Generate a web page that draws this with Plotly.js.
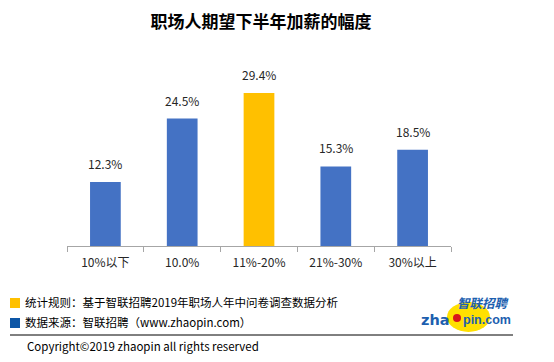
<!DOCTYPE html>
<html><head><meta charset="utf-8">
<script src="https://cdn.plot.ly/plotly-3.0.1.min.js"></script>
<style>body{margin:0;background:#fff}#c{width:554px;height:362px}</style>
</head><body><div id="c"></div>
<script>
const categories = ["10%以下", "10.0%", "11%-20%", "21%-30%", "30%以上"];
const values = [12.3, 24.5, 29.4, 15.3, 18.5];
const labels = ["12.3%", "24.5%", "29.4%", "15.3%", "18.5%"];
const barColors = ["#4472C4", "#4472C4", "#FFC000", "#4472C4", "#4472C4"];
const titleText = "职场人期望下半年加薪的幅度";
const note1 = "统计规则：基于智联招聘2019年职场人年中问卷调查数据分析";
const note2 = "数据来源：智联招聘（www.zhaopin.com）";
const copyright = "Copyright©2019 zhaopin all rights reserved";

const L = 67, R = 451, T = 60, B = 246, W = 554, H = 362;
const px = x => (x - L) / (R - L);
const py = y => (B - y) / (B - T);
const FONT = "Microsoft YaHei, Noto Sans CJK SC, sans-serif";

const annotations = categories.map((c, i) => ({
  x: c, y: values[i], xref: 'x', yref: 'y', text: labels[i], showarrow: false,
  yanchor: 'bottom', yshift: 8, font: {size: 12, color: '#262626', family: FONT}
}));
annotations.push(
  {x: px(23), y: py(302), xref: 'paper', yref: 'paper', xanchor: 'left', yanchor: 'middle',
   text: note1, showarrow: false, font: {size: 11.5, color: '#000', family: FONT}},
  {x: px(23), y: py(322), xref: 'paper', yref: 'paper', xanchor: 'left', yanchor: 'middle',
   text: note2, showarrow: false, font: {size: 11.5, color: '#000', family: FONT}},
  {x: px(25), y: py(346), xref: 'paper', yref: 'paper', xanchor: 'left', yanchor: 'middle',
   text: copyright, showarrow: false, font: {size: 11.5, color: '#000', family: FONT}},
  {x: px(512), y: py(302), xref: 'paper', yref: 'paper', xanchor: 'right', yanchor: 'middle',
   text: "<b><i>智联招聘</i></b>", showarrow: false, font: {size: 12.5, color: '#1D5FAF', family: FONT}},
  {x: px(452), y: py(320), xref: 'paper', yref: 'paper', xanchor: 'right', yanchor: 'middle',
   text: "<b>zha</b>", showarrow: false, font: {size: 14.5, color: '#1D5FAF', family: "DejaVu Sans, sans-serif"}},
  {x: px(461), y: py(320), xref: 'paper', yref: 'paper', xanchor: 'left', yanchor: 'middle',
   text: "<b>pin.com</b>", showarrow: false, font: {size: 12.5, color: '#1D5FAF', family: "Liberation Sans, Arial, sans-serif"}}
);

const shapes = [
  {type: 'rect', xref: 'paper', yref: 'paper', x0: px(10), x1: px(20), y0: py(298), y1: py(308), fillcolor: '#FFC000', line: {width: 0}},
  {type: 'rect', xref: 'paper', yref: 'paper', x0: px(10), x1: px(20), y0: py(318), y1: py(328), fillcolor: '#0D56A6', line: {width: 0}},
  {type: 'line', xref: 'paper', yref: 'paper', x0: px(10), x1: px(513), y0: py(335), y1: py(335), line: {color: '#000', width: 1}},
  {type: 'circle', xref: 'paper', yref: 'paper', x0: px(447), x1: px(490), y0: py(302), y1: py(332), fillcolor: '#FFE000', line: {width: 0}, layer: 'below'},
  {type: 'circle', xref: 'paper', yref: 'paper', x0: px(453), x1: px(461), y0: py(314), y1: py(322), fillcolor: '#D8141B', line: {width: 0}}
];

Plotly.newPlot('c', [{
  type: 'bar', x: categories, y: values, marker: {color: barColors}, width: 0.4,
  hoverinfo: 'none'
}], {
  width: W, height: H,
  margin: {l: L, r: W - R, t: T, b: H - B, pad: 0},
  paper_bgcolor: '#fff', plot_bgcolor: '#fff',
  title: {text: '<b>' + titleText + '</b>', x: px(261), xref: 'paper', y: 1 - 22 / H, yanchor: 'middle',
          font: {size: 17, color: '#000', family: FONT}},
  xaxis: {type: 'category', showline: true, linecolor: '#A6A6A6', linewidth: 1,
          ticks: 'outside', tickson: 'boundaries', ticklen: 5, tickcolor: '#A6A6A6', ticklabelstandoff: 6,
          tickfont: {size: 12, color: '#262626', family: FONT}, showgrid: false, fixedrange: true},
  yaxis: {range: [0, (B - T) / 5.2], visible: false, showgrid: false, zeroline: false, fixedrange: true},
  showlegend: false, annotations: annotations, shapes: shapes, bargap: 0.6
}, {staticPlot: true});
</script></body></html>
